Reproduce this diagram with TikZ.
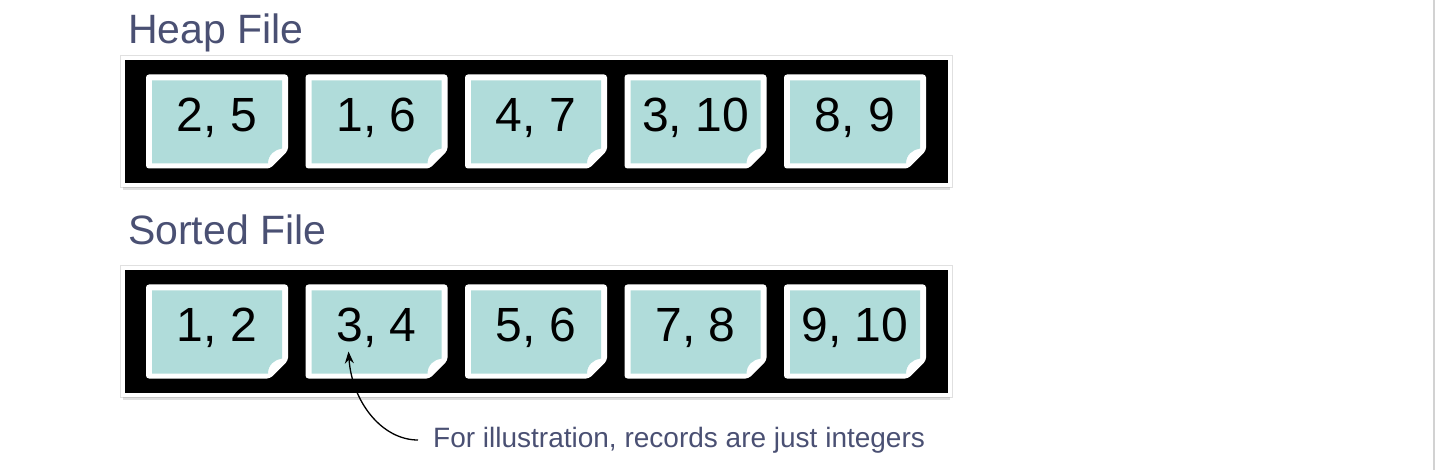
\documentclass[tikz,border=0pt]{standalone}
\usepackage{fontspec}
\setmainfont{Liberation Sans}
\usetikzlibrary{positioning,calc,backgrounds,shadows,arrows.meta}

\definecolor{pageteal}{RGB}{176,220,218}
\definecolor{slate}{RGB}{74,80,115}

\tikzset{
		title/.style={anchor=base west, inner sep=0pt, text=slate, font=\fontsize{41}{49}\selectfont},
		filebox/.style={fill=black, draw=white, line width=4pt, outer sep=0pt, inner sep=0pt,
			minimum width=827pt, minimum height=127pt,
			preaction={draw=black!12, line width=6pt},
			drop shadow={opacity=0.25, shadow xshift=0pt, shadow yshift=-5pt}},
		page/.style={minimum width=142pt, minimum height=94pt, inner sep=0pt, outer sep=0pt,
			text height=34pt, text depth=14pt, font=\fontsize{48}{58}\selectfont},
		note/.style={anchor=west, inner xsep=15pt, inner ysep=0pt, text=slate, font=\fontsize{28}{34}\selectfont},
		pointer/.style={-{Stealth[length=12pt,width=9pt]}, line width=1.3pt}
	}

% white sheet with a turned-up corner, drawn behind the node text
\newcommand\pageshape[1]{
	\fill[white, rounded corners=3pt] (#1.north west) -- (#1.north east)
		-- ($(#1.south east)+(0,18)$) -- ($(#1.south east)+(-18,0)$)
		-- (#1.south west) -- cycle;
	\fill[pageteal] ($(#1.north west)+(6,-6)$) -- ($(#1.north east)+(-6,-6)$)
		-- ($(#1.south east)+(-6,20)$)
		.. controls ($(#1.south east)+(-13,19)$) and ($(#1.south east)+(-20,14)$) .. ($(#1.south east)+(-20,5)$)
		-- ($(#1.south west)+(6,5)$) -- cycle;
}

\begin{document}
\begin{tikzpicture}[x=1pt, y=1pt]
	\useasboundingbox (0,0) rectangle (1435,-470);

	\node[title] (heaptitle) at (128,-44) {Heap File};
	\node[title] (sortedtitle) at (128,-245) {Sorted File};

	\begin{pgfonlayer}{background}
		\node[filebox] (heap) at (536.5,-121.5) {};
		\node[filebox] (sorted) at (536.5,-331.5) {};
	\end{pgfonlayer}

	% heap file pages
	\node[page, right=23pt of heap.west] (h1) {2, 5};
	\node[page, right=17.5pt of h1] (h2) {1, 6};
	\node[page, right=17.5pt of h2] (h3) {4, 7};
	\node[page, right=17.5pt of h3] (h4) {3, 10};
	\node[page, right=17.5pt of h4] (h5) {8, 9};

	% sorted file pages
	\node[page, right=23pt of sorted.west] (s1) {1, 2};
	\node[page, right=17.5pt of s1] (s2) {3, 4};
	\node[page, right=17.5pt of s2] (s3) {5, 6};
	\node[page, right=17.5pt of s3] (s4) {7, 8};
	\node[page, right=17.5pt of s4] (s5) {9, 10};

	\begin{pgfonlayer}{background}
		\foreach \p in {h1,h2,h3,h4,h5,s1,s2,s3,s4,s5}
			\pageshape{\p};
	\end{pgfonlayer}

	\node[note] (note) at (418,-440) {For illustration, records are just integers};
	\coordinate[below left=20pt and 28pt of s2.center] (record);
	\draw[pointer] (note.west) .. controls (382,-440) and (352,-402) .. (record);

	\draw[gray!35, line width=1.5pt] (1434.2,0) -- (1434.2,-470);
\end{tikzpicture}
\end{document}
